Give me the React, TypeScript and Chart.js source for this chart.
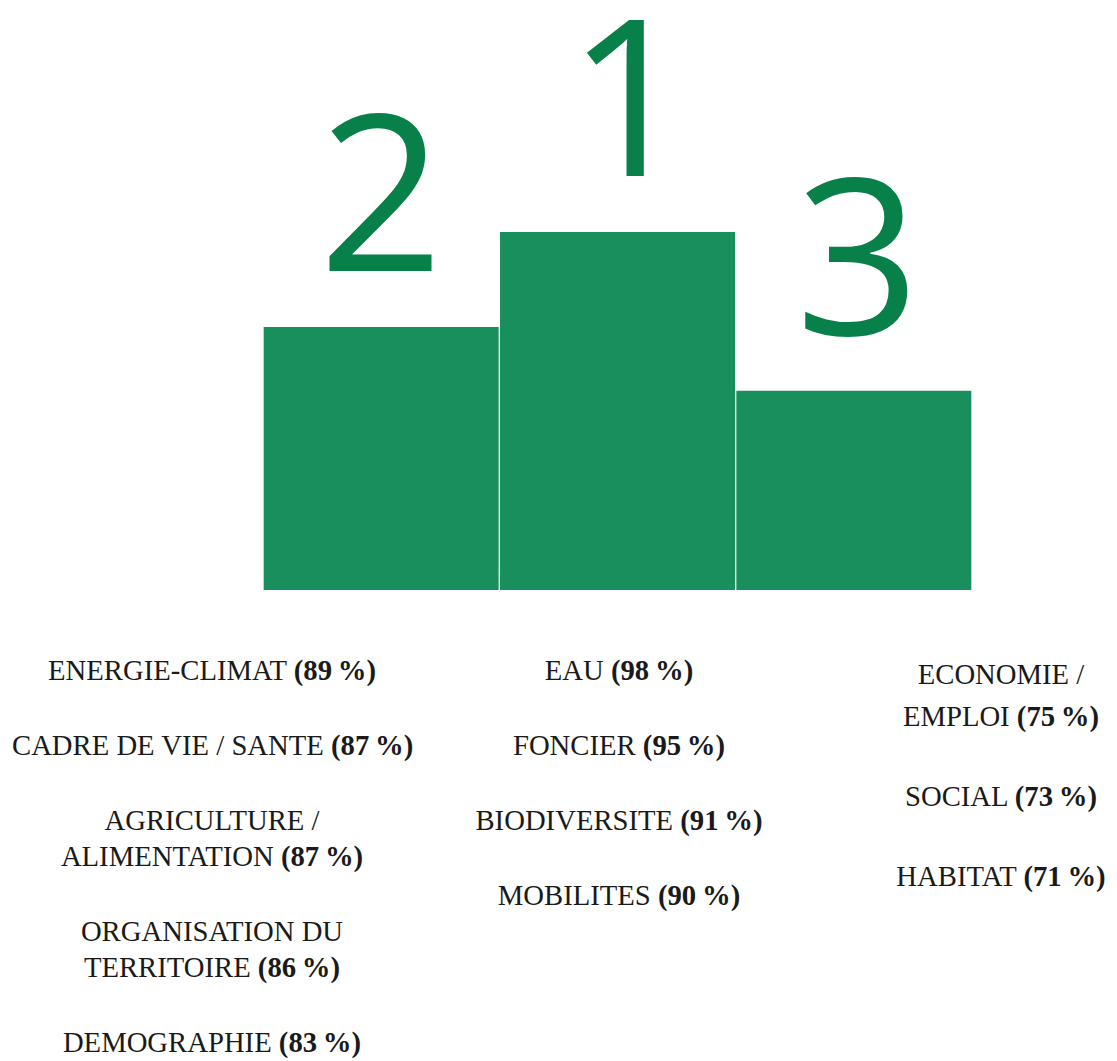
import React, { useEffect, useRef } from "react";
import { Chart, registerables } from "chart.js";

Chart.register(...registerables);

// Podium order left → right: 2nd, 1st, 3rd
const podiumRanks = ["2", "1", "3"];
const podiumHeights = [44.7, 60.8, 33.9];

// Text columns under each podium step: lines of the label, and the percentage
const secondLabels = [
  ["ENERGIE-CLIMAT"],
  ["CADRE DE VIE / SANTE"],
  ["AGRICULTURE /", "ALIMENTATION"],
  ["ORGANISATION DU", "TERRITOIRE"],
  ["DEMOGRAPHIE"],
];
const secondPercents = [89, 87, 87, 86, 83];

const firstLabels = [["EAU"], ["FONCIER"], ["BIODIVERSITE"], ["MOBILITES"]];
const firstPercents = [98, 95, 91, 90];

const thirdLabels = [["ECONOMIE /", "EMPLOI"], ["SOCIAL"], ["HABITAT"]];
const thirdPercents = [75, 73, 71];

const BAR_COLOR = "#1a8f5e";
const NUM_COLOR = "#07804a";
const NUM_SHIFT = [0, 12, 4];

const rankPlugin = {
  id: "rankNumbers",
  afterDatasetsDraw(chart: any) {
    const { ctx } = chart;
    const meta = chart.getDatasetMeta(0);
    ctx.save();
    ctx.fillStyle = NUM_COLOR;
    ctx.font = "218px 'Open Sans'";
    ctx.textAlign = "center";
    ctx.textBaseline = "alphabetic";
    meta.data.forEach((bar: any, i: number) => {
      ctx.fillText(podiumRanks[i], bar.x + NUM_SHIFT[i], bar.y - 55);
    });
    ctx.restore();
  },
};

function Column({
  labels,
  percents,
  center,
  lineHeight,
  gap,
  top,
}: {
  labels: string[][];
  percents: number[];
  center: number;
  lineHeight: number;
  gap: number;
  top: number;
}) {
  return (
    <div
      style={{
        position: "absolute",
        left: center - 200,
        width: 400,
        top,
        textAlign: "center",
        whiteSpace: "nowrap",
        fontFamily: "'Liberation Serif', serif",
        fontSize: 28.7,
        lineHeight: `${lineHeight}px`,
        color: "#1a1a1a",
        display: "flex",
        flexDirection: "column",
        gap,
      }}
    >
      {labels.map((lines, i) => (
        <div key={i}>
          {lines.map((ln, j) => (
            <div key={j}>
              {ln}
              {j === lines.length - 1 && (
                <>
                  {" "}
                  <b>({percents[i]}{"\u202F"}%)</b>
                </>
              )}
            </div>
          ))}
        </div>
      ))}
    </div>
  );
}

export default function App() {
  const canvasRef = useRef<HTMLCanvasElement | null>(null);

  useEffect(() => {
    if (!canvasRef.current) return;
    const chart = new Chart(canvasRef.current, {
      type: "bar",
      data: {
        labels: podiumRanks,
        datasets: [
          {
            data: podiumHeights,
            backgroundColor: BAR_COLOR,
            borderColor: "#ffffff",
            borderWidth: 1,
            categoryPercentage: 1,
            barPercentage: 1,
          },
        ],
      },
      options: {
        responsive: false,
        animation: false,
        devicePixelRatio: 1,
        layout: { padding: { left: 263, right: 145, top: 0, bottom: 10 } },
        plugins: { legend: { display: false }, tooltip: { enabled: false } },
        scales: {
          x: { display: false },
          y: { display: false, min: 0, max: 100 },
        },
      },
      plugins: [rankPlugin],
    });
    return () => chart.destroy();
  }, []);

  return (
    <div
      style={{
        position: "absolute",
        left: 0,
        top: 0,
        width: 1117,
        height: 1061,
        overflow: "hidden",
        background: "#ffffff",
      }}
    >
      <canvas
        ref={canvasRef}
        width={1117}
        height={600}
        style={{ position: "absolute", left: 0, top: 0, width: 1117, height: 600 }}
      />
      <Column labels={secondLabels} percents={secondPercents} center={212} lineHeight={36} gap={39} top={652} />
      <Column labels={firstLabels} percents={firstPercents} center={619} lineHeight={36} gap={39} top={652} />
      <Column labels={thirdLabels} percents={thirdPercents} center={1001} lineHeight={42} gap={38} top={653} />
    </div>
  );
}
